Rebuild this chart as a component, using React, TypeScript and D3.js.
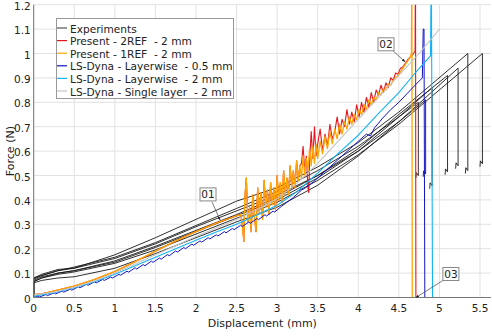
import React from "react";
import * as d3 from "d3";

type Pt = [number, number];

const X_TICKS = [0, 0.5, 1, 1.5, 2, 2.5, 3, 3.5, 4, 4.5, 5, 5.5];
const Y_TICKS = [0, 0.1, 0.2, 0.3, 0.4, 0.5, 0.6, 0.7, 0.8, 0.9, 1, 1.1, 1.2];

const LEGEND_NAMES = [
  "Experiments",
  "Present - 2REF  - 2 mm",
  "Present - 1REF  - 2 mm",
  "LS-Dyna - Layerwise  - 0.5 mm",
  "LS-Dyna - Layerwise  - 2 mm",
  "LS-Dyna - Single layer  - 2 mm",
];
const LEGEND_COLORS = ["#555555", "#e8141e", "#ffa500", "#1414c8", "#12b4f5", "#c4c4c4"];

// Experiments (7 specimens)
const exp1: Pt[] = [[0,0],[0,0.075],[0.1,0.09],[0.3,0.11],[0.5,0.125],[1,0.165],[1.5,0.225],[2,0.295],[2.5,0.365],[3,0.435],[3.5,0.52],[4,0.62],[4.5,0.74],[4.74,0.8],[4.74,0.5],[4.715,0.512],[4.71,0.49]];
const exp2: Pt[] = [[0,0],[0,0.08],[0.1,0.095],[0.3,0.115],[0.5,0.12],[1,0.16],[1.5,0.22],[2,0.29],[2.5,0.355],[3,0.42],[3.5,0.5],[4,0.6],[4.5,0.72],[4.83,0.81],[4.83,0.507],[4.805,0.519],[4.8,0.495]];
const exp3: Pt[] = [[0,0],[0,0.065],[0.1,0.08],[0.3,0.1],[0.5,0.11],[1,0.145],[1.5,0.205],[2,0.27],[2.5,0.335],[3,0.4],[3.5,0.49],[4,0.6],[4.5,0.74],[4.91,0.86],[4.91,0.458],[4.885,0.47],[4.88,0.446]];
const exp4: Pt[] = [[0,0],[0,0.07],[0.1,0.085],[0.3,0.1],[0.5,0.11],[1,0.15],[1.5,0.21],[2,0.275],[2.5,0.34],[3,0.41],[3.5,0.5],[4,0.61],[4.5,0.75],[5.1,0.91],[5.1,0.515],[5.075,0.527],[5.07,0.503]];
const exp5: Pt[] = [[0,0],[0,0.06],[0.1,0.07],[0.3,0.08],[0.5,0.085],[1,0.12],[1.5,0.18],[2,0.245],[2.5,0.31],[3,0.37],[3.5,0.46],[4,0.58],[4.5,0.72],[5.23,0.94],[5.23,0.54],[5.205,0.552],[5.2,0.528]];
const exp6: Pt[] = [[0,0],[0,0.08],[0.1,0.09],[0.3,0.11],[0.5,0.12],[1,0.175],[1.5,0.245],[2,0.32],[2.5,0.395],[3,0.45],[3.5,0.535],[4,0.635],[4.5,0.76],[5.35,1.0],[5.35,0.52],[5.325,0.532],[5.32,0.508]];
const exp7: Pt[] = [[0,0],[0,0.065],[0.1,0.08],[0.3,0.095],[0.5,0.105],[1,0.14],[1.5,0.195],[2,0.26],[2.5,0.325],[3,0.39],[3.5,0.48],[4,0.585],[4.5,0.71],[5.53,1.0],[5.53,0.548],[5.505,0.56],[5.5,0.536]];
const EXPERIMENTS = [exp1, exp2, exp3, exp4, exp5, exp6, exp7];

// Present - 1REF (orange)
const orange: Pt[] = [
  [0,0.012],[0.1,0.015],[0.25,0.027],[0.5,0.047],[0.75,0.074],[1,0.107],[1.25,0.147],[1.5,0.19],[1.75,0.232],[2,0.27],[2.25,0.305],[2.5,0.335],
  [2.55,0.34],[2.57,0.3],[2.59,0.23],[2.6,0.4],[2.62,0.49],[2.64,0.31],[2.66,0.37],[2.68,0.27],[2.7,0.42],[2.72,0.33],[2.74,0.27],[2.76,0.45],[2.78,0.35],
  [2.8,0.43],[2.82,0.32],[2.84,0.48],[2.86,0.37],[2.88,0.44],[2.9,0.34],[2.92,0.47],[2.94,0.38],[2.96,0.45],[2.98,0.36],[3,0.5],[3.02,0.4],[3.04,0.47],
  [3.06,0.39],[3.08,0.52],[3.1,0.42],[3.12,0.49],[3.14,0.42],[3.16,0.54],[3.18,0.45],[3.2,0.52],[3.22,0.45],[3.24,0.56],[3.26,0.48],[3.28,0.54],[3.3,0.49],
  [3.32,0.58],[3.34,0.5],[3.36,0.57],[3.38,0.52],[3.4,0.61],[3.42,0.54],[3.44,0.62],[3.46,0.55],[3.48,0.63],[3.5,0.57],[3.53,0.64],[3.56,0.59],[3.59,0.66],
  [3.62,0.61],[3.65,0.68],[3.68,0.63],[3.71,0.69],[3.74,0.65],[3.77,0.71],[3.8,0.67],[3.83,0.72],[3.86,0.69],[3.89,0.74],[3.92,0.71],[3.95,0.75],[3.98,0.73],
  [4.01,0.77],[4.04,0.75],[4.07,0.79],[4.1,0.77],[4.13,0.81],[4.16,0.79],[4.19,0.82],[4.22,0.81],[4.25,0.84],[4.28,0.83],[4.31,0.855],[4.34,0.85],[4.37,0.875],
  [4.4,0.87],[4.43,0.89],[4.46,0.9],[4.49,0.91],[4.52,0.925],[4.55,0.94],[4.58,0.955],[4.61,0.97],[4.64,0.985],[4.655,1.0],[4.66,1.4],[4.665,0],
];

// Present - 2REF (red): same as orange below x=3.28, then its own noisy tail
const redTail: Pt[] = [
  [3.3,0.55],[3.32,0.62],[3.34,0.52],[3.36,0.58],[3.38,0.45],[3.39,0.43],[3.4,0.56],[3.42,0.68],[3.44,0.57],[3.46,0.7],[3.48,0.58],[3.5,0.63],[3.53,0.69],
  [3.56,0.6],[3.59,0.67],[3.62,0.62],[3.65,0.71],[3.68,0.65],[3.71,0.68],[3.74,0.74],[3.77,0.67],[3.8,0.73],[3.83,0.7],[3.86,0.77],[3.89,0.71],[3.92,0.76],
  [3.95,0.72],[3.98,0.79],[4.01,0.74],[4.04,0.8],[4.07,0.76],[4.1,0.82],[4.13,0.78],[4.16,0.84],[4.19,0.8],[4.22,0.85],[4.25,0.83],[4.28,0.87],[4.31,0.84],
  [4.34,0.88],[4.37,0.86],[4.4,0.9],[4.43,0.89],[4.46,0.92],[4.49,0.915],[4.52,0.94],[4.55,0.945],[4.58,0.96],[4.61,0.975],[4.64,0.985],[4.67,0.995],
  [4.7,1.01],[4.705,1.4],[4.71,0],
];
const red: Pt[] = orange.filter((p) => p[0] < 3.29).concat(redTail);

// LS-Dyna - Layerwise - 0.5 mm (blue)
const blue: Pt[] = [
  [0,0],[0.05,0.005],[0.07,0.002],[0.15,0.012],[0.17,0.008],[0.25,0.019],[0.27,0.015],[0.35,0.026],[0.37,0.022],[0.45,0.034],[0.47,0.03],[0.55,0.044],
  [0.57,0.04],[0.65,0.054],[0.67,0.05],[0.75,0.064],[0.77,0.06],[0.85,0.074],[0.87,0.07],[0.95,0.084],[0.97,0.08],[1.05,0.095],[1.07,0.091],
  [1.15,0.108],[1.17,0.104],[1.25,0.122],[1.27,0.117],[1.35,0.135],[1.37,0.13],[1.45,0.149],[1.47,0.144],[1.55,0.162],[1.57,0.157],[1.65,0.176],[1.67,0.171],
  [1.75,0.191],[1.77,0.186],[1.85,0.205],[1.87,0.2],[1.95,0.219],[1.97,0.214],[2.05,0.232],[2.07,0.227],[2.15,0.245],[2.17,0.24],[2.25,0.257],[2.27,0.252],
  [2.35,0.27],[2.37,0.265],[2.45,0.283],[2.47,0.278],[2.55,0.296],[2.57,0.291],[2.65,0.309],[2.67,0.304],[2.75,0.324],[2.77,0.319],[2.85,0.339],[2.87,0.334],
  [2.95,0.354],[2.97,0.35],[3.05,0.373],[3.1,0.385],[3.2,0.41],[3.3,0.44],[3.35,0.45],[3.4,0.462],[3.45,0.475],[3.5,0.49],[3.6,0.52],[3.7,0.55],[3.8,0.58],
  [3.9,0.61],[4,0.64],[4.1,0.67],[4.15,0.662],[4.2,0.695],[4.3,0.735],[4.4,0.77],[4.5,0.8],[4.6,0.835],[4.7,0.87],[4.79,0.9],[4.8,1.1],[4.81,1.1],[4.82,0],
];

// LS-Dyna - Layerwise - 2 mm (cyan)
const cyan: Pt[] = [
  [0,0.005],[0.25,0.02],[0.5,0.04],[0.75,0.065],[1,0.095],[1.25,0.13],[1.5,0.165],[1.75,0.2],[2,0.235],[2.25,0.268],[2.5,0.3],[2.75,0.338],[3,0.378],
  [3.25,0.435],[3.5,0.51],[3.75,0.59],[4,0.665],[4.25,0.755],[4.5,0.84],[4.7,0.92],[4.89,0.99],[4.9,1.4],[4.915,0],
];

// LS-Dyna - Single layer - 2 mm (light gray)
const single: Pt[] = [
  [0,0.01],[0.25,0.022],[0.5,0.042],[0.75,0.068],[1,0.1],[1.25,0.137],[1.5,0.175],[1.75,0.212],[2,0.25],[2.25,0.285],[2.5,0.32],[2.75,0.36],[3,0.405],
  [3.25,0.47],[3.5,0.55],[3.75,0.64],[4,0.73],[4.25,0.82],[4.5,0.91],[4.75,1.0],[5,1.1],
];

const SERIES: { data: Pt[]; color: string; w: number }[] = [
  { data: red, color: LEGEND_COLORS[1], w: 1.1 },
  { data: orange, color: LEGEND_COLORS[2], w: 1.3 },
  { data: blue, color: LEGEND_COLORS[3], w: 1 },
  { data: cyan, color: LEGEND_COLORS[4], w: 1.1 },
  { data: single, color: LEGEND_COLORS[5], w: 1.1 },
];

// annotations: label, anchor point (data), box top-left offset and arrow-start offset (px from anchor)
const NOTES: { label: string; at: Pt; bx: number; by: number; sx: number; sy: number }[] = [
  { label: "01", at: [2.296, 0.318], bx: -20, by: -32, sx: -8, sy: -18 },
  { label: "02", at: [4.576, 0.966], bx: -27, by: -24, sx: -12, sy: -11 },
  { label: "03", at: [4.71, 0], bx: 27, by: -30, sx: 27, sy: -17 },
];

const W = 492;
const H = 336;
const FONT = "DejaVu Sans, Verdana, sans-serif";

export default function App() {
  const x = d3.scaleLinear().domain([0, 5.5]).range([33.7, 480]);
  const y = d3.scaleLinear().domain([0, 1.2]).range([297.5, 4.7]);
  const left = x(0);
  const right = 491;
  const top = y(1.2);
  const bottom = y(0);
  const line = d3.line<Pt>().x((d) => x(d[0])).y((d) => y(d[1]));
  const fmt = (v: number) => `${+v.toFixed(1)}`;

  return (
    <svg width={W} height={H} style={{ position: "absolute", left: 0, top: 0, background: "#fff" }} fontFamily={FONT}>
      <defs>
        <clipPath id="plotclip">
          <rect x={left} y={top} width={right - left} height={bottom - top} />
        </clipPath>
        <marker id="arr" viewBox="0 0 10 10" refX="9" refY="5" markerWidth="5" markerHeight="5" orient="auto">
          <path d="M0,1 L10,5 L0,9 z" fill="#222" />
        </marker>
      </defs>
      <rect x={0} y={0} width={W} height={H} fill="#fff" />
      {X_TICKS.map((t) => (
        <line key={"gx" + t} x1={x(t)} x2={x(t)} y1={top} y2={bottom} stroke="#e2e2e2" strokeWidth={1} />
      ))}
      {Y_TICKS.map((t) => (
        <line key={"gy" + t} x1={left} x2={right} y1={y(t)} y2={y(t)} stroke="#e2e2e2" strokeWidth={1} />
      ))}
      <g clipPath="url(#plotclip)" fill="none" strokeLinejoin="round">
        {EXPERIMENTS.map((e, i) => (
          <path key={"e" + i} d={line(e) || ""} stroke="#1a1a1a" strokeWidth={0.9} />
        ))}
        {SERIES.map((s, i) => (
          <path key={"s" + i} d={line(s.data) || ""} stroke={s.color} strokeWidth={s.w} />
        ))}
      </g>
      <line x1={left} x2={left} y1={top} y2={bottom} stroke="#777" strokeWidth={1} />
      <line x1={left} x2={right} y1={bottom} y2={bottom} stroke="#777" strokeWidth={1} />
      {Y_TICKS.map((t) => (
        <text key={"ty" + t} x={left - 3} y={y(t) + 5} fontSize={10.5} textAnchor="end" fill="#222">
          {fmt(t)}
        </text>
      ))}
      {X_TICKS.map((t) => (
        <text key={"tx" + t} x={x(t)} y={bottom + 14} fontSize={10.5} textAnchor="middle" fill="#222">
          {fmt(t)}
        </text>
      ))}
      <text x={(left + right) / 2} y={327} fontSize={11} textAnchor="middle" fill="#222">
        Displacement (mm)
      </text>
      <text transform={`translate(14,${(top + bottom) / 2}) rotate(-90)`} fontSize={11} textAnchor="middle" fill="#222">
        Force (N)
      </text>
      {NOTES.map((n) => {
        const ax = x(n.at[0]);
        const ay = y(n.at[1]);
        return (
          <g key={n.label}>
            <line x1={ax + n.sx} y1={ay + n.sy} x2={ax} y2={ay} stroke="#444" strokeWidth={0.7} markerEnd="url(#arr)" />
            <rect x={ax + n.bx} y={ay + n.by} width={16} height={13} fill="#fff" stroke="#888" strokeWidth={1} />
            <text x={ax + n.bx + 8} y={ay + n.by + 10.5} fontSize={10.5} textAnchor="middle" fill="#222">
              {n.label}
            </text>
          </g>
        );
      })}
      <g>
        <rect x={56.5} y={18.5} width={177} height={80} fill="#fff" stroke="#999" strokeWidth={1} />
        {LEGEND_NAMES.map((name, i) => {
          const ly = 29 + i * 12.6;
          return (
            <g key={name}>
              <line x1={57} x2={67} y1={ly - 1} y2={ly - 1} stroke={LEGEND_COLORS[i]} strokeWidth={1.2} />
              <text x={70} y={ly + 3.5} fontSize={10.6} fill="#222" style={{ whiteSpace: "pre" }}>
                {name}
              </text>
            </g>
          );
        })}
      </g>
    </svg>
  );
}
